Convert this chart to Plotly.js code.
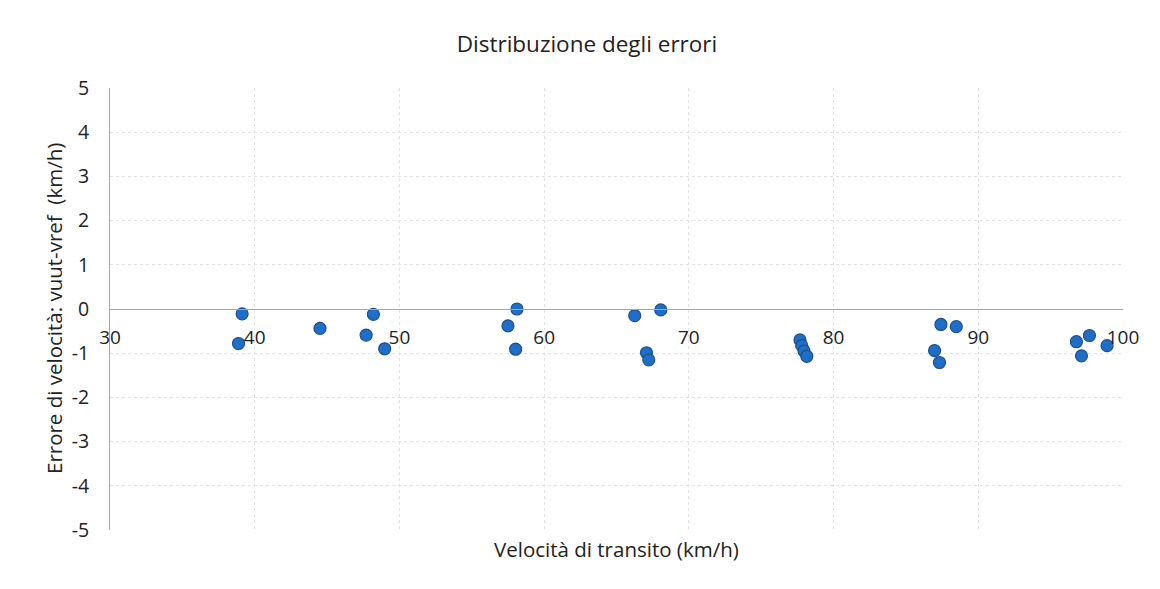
<!DOCTYPE html>
<html>
<head>
<meta charset="utf-8">
<script src="https://cdn.plot.ly/plotly-3.0.1.min.js"></script>
<style>html,body{margin:0;padding:0;background:#fff;}#chart{width:1160px;height:589px;}</style>
</head>
<body>
<div id="chart"></div>
<script>
const velocita = [39.13, 38.88, 44.51, 48.2, 47.7, 48.98, 58.12, 57.5, 58.03, 66.26, 68.06, 67.07, 67.23, 77.68, 77.8, 77.96, 78.15, 87.42, 88.48, 86.98, 87.32, 96.78, 97.68, 97.13, 98.9];
const errore = [-0.11, -0.78, -0.44, -0.12, -0.59, -0.90, 0.0, -0.38, -0.91, -0.15, -0.02, -0.99, -1.15, -0.70, -0.83, -0.95, -1.07, -0.35, -0.40, -0.94, -1.21, -0.74, -0.60, -1.06, -0.83];
const xTicks = [30, 40, 50, 60, 70, 80, 90, 100];
const yTicks = [-5, -4, -3, -2, -1, 0, 1, 2, 3, 4, 5];
const titolo = "Distribuzione degli errori";
const titoloX = "Velocità di transito (km/h)";
const titoloY = "Errore di velocità: vuut-vref  (km/h)";

const font = "'Open Sans', 'Noto Sans', sans-serif";
Plotly.newPlot('chart', [{
  x: velocita, y: errore, type: 'scatter', mode: 'markers',
  marker: {size: 12, color: '#1f6fc9', line: {color: '#1d4f8c', width: 1.2}},
  cliponaxis: false
}], {
  width: 1160, height: 589,
  margin: {l: 110, r: 37, t: 88, b: 59},
  paper_bgcolor: '#fff', plot_bgcolor: '#fff',
  showlegend: false,
  title: {text: titolo, x: 0.506, xanchor: 'center', y: 0.925, yanchor: 'middle', font: {family: font, size: 22.5, color: '#222'}},
  xaxis: {
    range: [30, 100], tickvals: xTicks, ticktext: xTicks.map(String),
    anchor: 'free', position: 0.5, showline: true, linecolor: '#a6a6a6', linewidth: 1,
    showgrid: true, gridcolor: '#e2e2e2', griddash: 'dot', zeroline: false,
    ticks: '', ticklabelstandoff: 11,
    tickfont: {family: font, size: 19, color: '#222'}
  },
  yaxis: {
    range: [-5, 5], tickvals: yTicks, ticktext: yTicks.map(String),
    showline: true, linecolor: '#a6a6a6', linewidth: 1,
    showgrid: true, gridcolor: '#e2e2e2', griddash: 'dot', zeroline: false,
    ticks: '', ticklabelstandoff: 16,
    tickfont: {family: font, size: 19.5, color: '#222'}
  },
  annotations: [{
    text: titoloX, xref: 'paper', yref: 'paper', x: 0.5, y: 0, yshift: -19, xanchor: 'center', yanchor: 'middle',
    showarrow: false, font: {family: font, size: 20.5, color: '#222'}
  }, {
    text: titoloY, xref: 'paper', yref: 'paper', x: 0, xshift: -56, y: 0.5, xanchor: 'center', yanchor: 'middle',
    textangle: -90, showarrow: false, font: {family: font, size: 20.5, color: '#222'}
  }]
}, {displayModeBar: false, staticPlot: true});
</script>
</body>
</html>
